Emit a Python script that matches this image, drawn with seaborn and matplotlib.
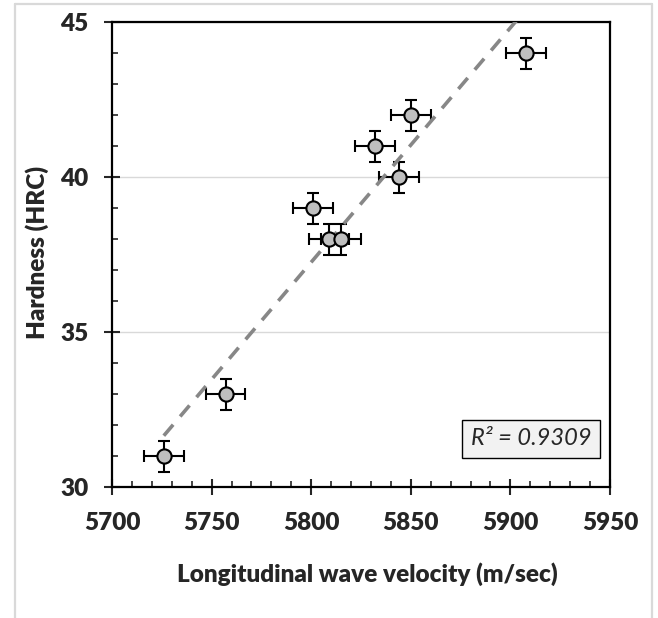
import numpy as np
import pandas as pd
import matplotlib
matplotlib.use('Agg')
import matplotlib.pyplot as plt
from matplotlib.ticker import MultipleLocator
from matplotlib.lines import Line2D
import seaborn as sns

# data
velocity = [5726, 5757, 5801, 5809, 5815, 5832, 5844, 5850, 5908]
hardness = [31, 33, 39, 38, 38, 41, 40, 42, 44]
vel_err = [10] * 9
hrc_err = [0.5] * 9
r2_text = 'R² = 0.9309'
x_label = 'Longitudinal wave velocity (m/sec)'
y_label = 'Hardness (HRC)'

df = pd.DataFrame({'velocity': velocity, 'hardness': hardness})

sns.set_style('white')
plt.rcParams['font.family'] = ['Lato', 'DejaVu Sans']

fig = plt.figure(figsize=(6.58, 6.18), dpi=100)
ax = fig.add_axes([112 / 658, 1 - 487 / 618, 498 / 658, 465 / 618])

# light gray frame round the chart area (no bottom edge)
for xs, ys in [([15, 15], [618, 4]), ([15, 652], [4, 4]), ([652, 652], [4, 618])]:
    fig.add_artist(Line2D([v / 658 for v in xs], [1 - v / 618 for v in ys],
                          color='#D9D9D9', lw=1.6))

ax.errorbar(df['velocity'], df['hardness'], xerr=vel_err, yerr=hrc_err,
            fmt='none', ecolor='black', elinewidth=1.5, capsize=4.5,
            capthick=1.5, zorder=3)
sns.regplot(data=df, x='velocity', y='hardness', scatter=False, ci=None,
            truncate=True, ax=ax,
            line_kws=dict(color='#878787', lw=2.6, ls=(0, (4, 3)), zorder=4))
sns.scatterplot(data=df, x='velocity', y='hardness', ax=ax, s=105,
                color='#BFBFBF', edgecolor='black', linewidth=1.5, zorder=5)

ax.set_xlim(5700, 5950)
ax.set_ylim(30, 45)
ax.xaxis.set_major_locator(MultipleLocator(50))
ax.xaxis.set_minor_locator(MultipleLocator(10))
ax.yaxis.set_major_locator(MultipleLocator(5))
ax.yaxis.set_minor_locator(MultipleLocator(1))

ax.grid(axis='y', which='major', color='#D9D9D9', lw=1.0)
ax.set_axisbelow(True)
for s in ax.spines.values():
    s.set_color('black')
    s.set_linewidth(1.6)

ax.tick_params(which='major', direction='inout', length=11.5, width=1.5,
               labelsize=17.5, left=True, bottom=True)
ax.tick_params(axis='y', which='major', pad=11)
ax.tick_params(axis='x', which='major', pad=12)
ax.tick_params(which='minor', direction='in', length=4.3, width=1.2,
               left=True, bottom=True)
for lab in ax.get_xticklabels() + ax.get_yticklabels():
    lab.set_fontweight('heavy')

ax.set_xlabel(x_label, fontsize=17.5, fontweight='heavy')
ax.set_ylabel(y_label, fontsize=17.5, fontweight='heavy')
ax.xaxis.set_label_coords(0.512, -0.162)
ax.yaxis.set_label_coords(-0.126, 0.505)

ax.text(0.841, 0.104, r2_text, transform=ax.transAxes, fontsize=17,
        fontstyle='italic', ha='center', va='center', zorder=6,
        bbox=dict(boxstyle='square,pad=0.36', facecolor='#F2F2F2',
                  edgecolor='black', lw=1.0))

fig.savefig('out.png', dpi=100)
